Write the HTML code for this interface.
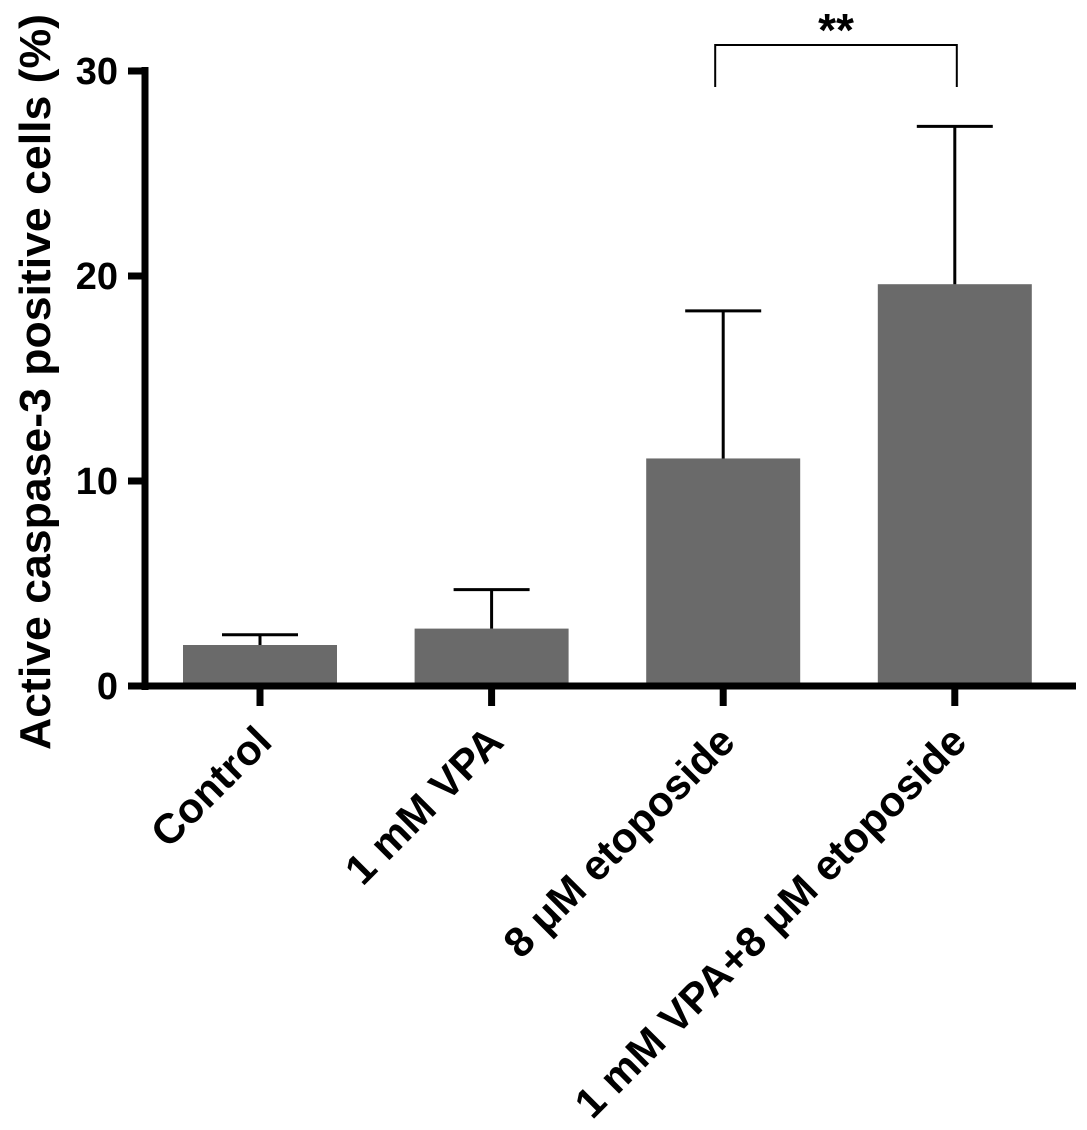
<!DOCTYPE html>
<html><head><meta charset="utf-8"><style>
html,body{margin:0;padding:0;background:#fff;}
svg{display:block;font-family:"Liberation Sans",Arial,sans-serif;font-weight:bold;}
</style></head><body>
<svg id="chart" width="1087" height="1130" viewBox="0 0 1087 1130" xmlns="http://www.w3.org/2000/svg">
<g id="plot"></g>
<text transform="translate(50,382) rotate(-90)" text-anchor="middle" font-size="44" textLength="736" lengthAdjust="spacingAndGlyphs">Active caspase-3  positive cells (%)</text>
</svg>
<script>
const categories = ["Control","1 mM VPA","8 μM etoposide","1 mM VPA+8 μM etoposide"];
const means = [2.0, 2.8, 11.1, 19.6];
const errors = [0.5, 1.9, 7.2, 7.7];
const yTicks = [0, 10, 20, 30];
const sigPair = [2, 3];
const sigLabel = "**";

const svg = document.getElementById('plot');
const NS = "http://www.w3.org/2000/svg";
const y0 = 686, yTop = 71, yMax = 30;
function yScale(v){ return y0 - (v / yMax) * (y0 - yTop); }
const xStart = 260, xStep = 231.6;
function xScale(i){ return xStart + i * xStep; }
const barW = 154, capW = 76;

function mk(tag, attrs){
  const e = document.createElementNS(NS, tag);
  for (const k in attrs) e.setAttribute(k, attrs[k]);
  svg.appendChild(e);
  return e;
}

categories.forEach((c, i) => {
  const cx = xScale(i);
  const r = mk('rect', {x: cx - barW/2, y: yScale(means[i]), width: barW, height: y0 - yScale(means[i]), fill: '#6a6a6a'});
  
  
  const ytop = yScale(means[i] + errors[i]);
  const ev = mk('line', {x1: cx, x2: cx, y1: yScale(means[i]), y2: ytop, stroke: '#000', 'stroke-width': 3});
  
  
  const ec = mk('line', {x1: cx - capW/2, x2: cx + capW/2, y1: ytop, y2: ytop, stroke: '#000', 'stroke-width': 3});
  
  
  const t = mk('line', {x1: cx, x2: cx, y1: y0, y2: y0 + 20, stroke: '#000', 'stroke-width': 7});
  
  
  const lab = mk('text', {transform: `translate(${cx + 14},${y0 + 58}) rotate(-45)`, 'text-anchor': 'end', 'font-size': 42});
  lab.textContent = c;
  
  
});

const ya = mk('line', {x1: 145, x2: 145, y1: yTop - 4, y2: y0 + 4, stroke: '#000', 'stroke-width': 7});


const xa = mk('line', {x1: 142, x2: 1076, y1: y0, y2: y0, stroke: '#000', 'stroke-width': 7});



yTicks.forEach(v => {
  const yy = yScale(v);
  const t = mk('line', {x1: 128, x2: 146, y1: yy, y2: yy, stroke: '#000', 'stroke-width': 7});
  
  
  const l = mk('text', {x: 118, y: yy + 13, 'text-anchor': 'end', 'font-size': 38});
  l.textContent = v;
  
  
});

const xa1 = xScale(sigPair[0]) - 8, xb1 = xScale(sigPair[1]) + 2;
const br = mk('path', {d: `M${xa1},87 V45 H${xb1} V87`, fill: 'none', stroke: '#000', 'stroke-width': 2});


const st = mk('text', {x: (xa1 + xb1)/2, y: 46, 'text-anchor': 'middle', 'font-size': 46});
st.textContent = sigLabel;


</script>
</body></html>
